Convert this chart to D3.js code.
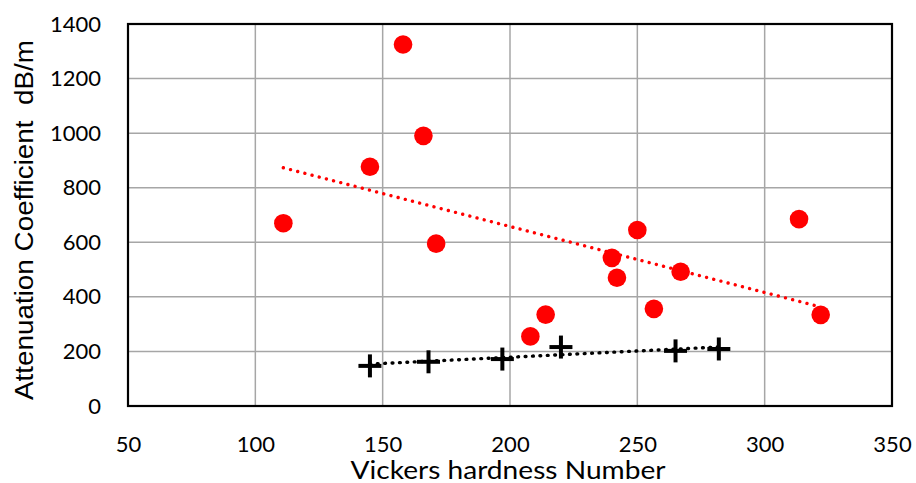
<!DOCTYPE html>
<html>
<head>
<meta charset="utf-8">
<script src="https://cdn.jsdelivr.net/npm/d3@7"></script>
<style>
  html, body { margin: 0; padding: 0; background: #fff; }
  svg { display: block; }
</style>
</head>
<body>
<svg id="chart" width="916" height="483"></svg>
<script>
// Samples with measured attenuation (red dots)
const hardnessA = [111, 145, 158, 166, 171, 208, 214, 240, 242, 250, 256.5, 267, 313.5, 322];
const attenA    = [670, 877, 1325, 990, 595, 255, 335, 543, 470, 645, 356, 492, 685, 334];

// Second sample set (black crosses)
const hardnessB = [145, 168, 197, 220, 265, 282];
const attenB    = [147, 162, 172, 216, 202, 209];

const xTicks = [50, 100, 150, 200, 250, 300, 350];
const yTicks = [0, 200, 400, 600, 800, 1000, 1200, 1400];

const xTitle = "Vickers hardness Number";
const yTitle = "Attenuation Coefficient\u00a0\u00a0dB/m";

const plot = { left: 128, right: 892, top: 24, bottom: 406 };

const svg = d3.select("#chart");

const x = d3.scaleLinear().domain([50, 350]).range([plot.left, plot.right]);
const y = d3.scaleLinear().domain([0, 1400]).range([plot.bottom, plot.top]);

// least-squares line through a set of points, drawn over the data's x span
function linearFit(xs, ys) {
  const n = xs.length;
  const mx = d3.mean(xs), my = d3.mean(ys);
  let sxy = 0, sxx = 0;
  for (let i = 0; i < n; i++) {
    sxy += (xs[i] - mx) * (ys[i] - my);
    sxx += (xs[i] - mx) * (xs[i] - mx);
  }
  const b = sxy / sxx, a = my - b * mx;
  const x0 = d3.min(xs), x1 = d3.max(xs);
  return [[x0, a + b * x0], [x1, a + b * x1]];
}

// grid
const grid = svg.append("g");
grid.selectAll("line.v").data(xTicks.slice(1, -1)).join("line")
  .attr("x1", d => x(d)).attr("x2", d => x(d))
  .attr("y1", plot.top).attr("y2", plot.bottom)
  .attr("stroke", "#a6a6a6").attr("stroke-width", 1.5);
grid.selectAll("line.h").data(yTicks.slice(1, -1)).join("line")
  .attr("x1", plot.left).attr("x2", plot.right)
  .attr("y1", d => y(d)).attr("y2", d => y(d))
  .attr("stroke", "#a6a6a6").attr("stroke-width", 1.5);

// axes (labels only; the frame is drawn separately)
const tickFont = "Lato, 'Open Sans', sans-serif";
const fmt = d3.format("d");
const xAxis = svg.append("g")
  .attr("transform", `translate(0,${plot.bottom})`)
  .call(d3.axisBottom(x).tickValues(xTicks).tickFormat(fmt).tickSize(0).tickPadding(30));
xAxis.select(".domain").remove();
xAxis.selectAll("text").attr("font-family", tickFont).attr("font-size", 22).attr("fill", "#000");

const yAxis = svg.append("g")
  .attr("transform", `translate(${plot.left},0)`)
  .call(d3.axisLeft(y).tickValues(yTicks).tickFormat(fmt).tickSize(0).tickPadding(27));
yAxis.select(".domain").remove();
yAxis.selectAll("text").attr("font-family", tickFont).attr("font-size", 22).attr("fill", "#000");

// trend lines
const line = d3.line().x(d => x(d[0])).y(d => y(d[1]));
svg.append("path")
  .attr("d", line(linearFit(hardnessA, attenA)))
  .attr("fill", "none").attr("stroke", "#ff0000")
  .attr("stroke-width", 3.4).attr("stroke-linecap", "round")
  .attr("stroke-dasharray", "0.01 7.4");
svg.append("path")
  .attr("d", line(linearFit(hardnessB, attenB)))
  .attr("fill", "none").attr("stroke", "#000")
  .attr("stroke-width", 3.4).attr("stroke-linecap", "round")
  .attr("stroke-dasharray", "0.8 6.6");

// red dots
svg.append("g").selectAll("circle")
  .data(hardnessA.map((v, i) => [v, attenA[i]]))
  .join("circle")
  .attr("cx", d => x(d[0])).attr("cy", d => y(d[1]))
  .attr("r", 9.3).attr("fill", "#ff0000");

// black crosses
const arm = 11.5;
const crosses = svg.append("g").selectAll("g")
  .data(hardnessB.map((v, i) => [v, attenB[i]]))
  .join("g")
  .attr("transform", d => `translate(${x(d[0])},${y(d[1])})`);
crosses.append("line").attr("x1", -arm).attr("x2", arm).attr("y1", 0).attr("y2", 0)
  .attr("stroke", "#000").attr("stroke-width", 4);
crosses.append("line").attr("x1", 0).attr("x2", 0).attr("y1", -arm).attr("y2", arm)
  .attr("stroke", "#000").attr("stroke-width", 4);

// frame
svg.append("rect")
  .attr("x", plot.left).attr("y", plot.top)
  .attr("width", plot.right - plot.left).attr("height", plot.bottom - plot.top)
  .attr("fill", "none").attr("stroke", "#000").attr("stroke-width", 2.2);

// axis titles
svg.append("text")
  .attr("x", (plot.left + plot.right) / 2 - 2).attr("y", 479)
  .attr("text-anchor", "middle")
  .attr("font-family", tickFont).attr("font-size", 25)
  .attr("textLength", 315).attr("lengthAdjust", "spacingAndGlyphs")
  .text(xTitle);

svg.append("text")
  .attr("transform", "translate(33,220) rotate(-90)")
  .attr("text-anchor", "middle")
  .attr("font-family", "'Liberation Sans', Arial, sans-serif").attr("font-size", 25)
  .attr("textLength", 360).attr("lengthAdjust", "spacingAndGlyphs")
  .text(yTitle);
</script>
</body>
</html>
